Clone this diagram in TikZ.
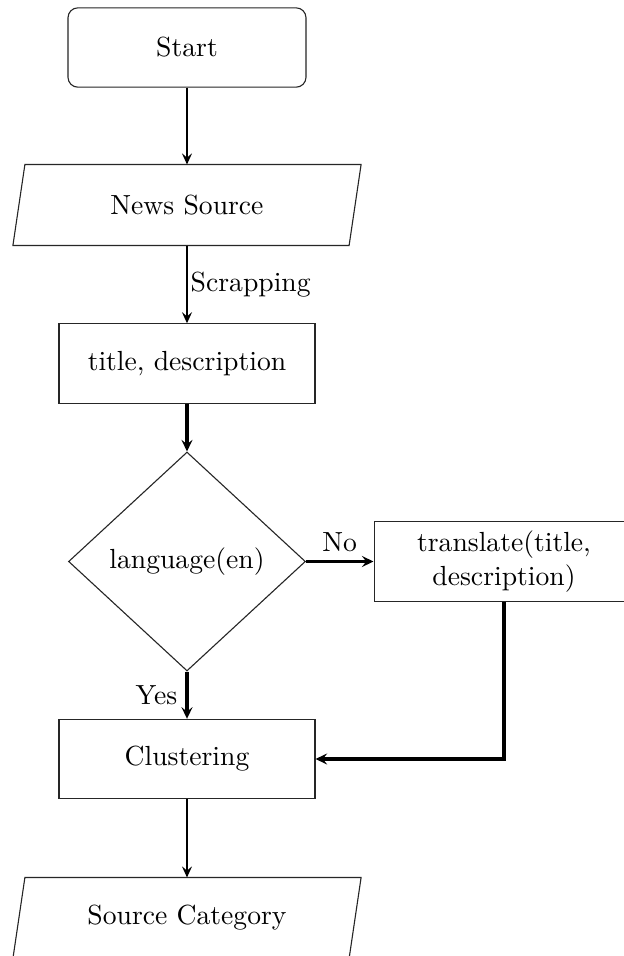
\documentclass[tikz,border=0pt]{standalone}
\usetikzlibrary{shapes.geometric,arrows.meta}
\tikzset{
  box/.style={draw=black!85,line width=0.4pt,rectangle,minimum width=92.6pt,minimum height=28.7pt,inner sep=2pt},
  startbox/.style={box,rounded corners=3.6pt,minimum width=86.1pt},
  iobox/.style={rectangle,minimum width=121.2pt,minimum height=28.9pt,inner sep=2pt},
  decision/.style={draw=black!85,line width=0.4pt,diamond,minimum width=85.7pt,minimum height=79.2pt,inner sep=0pt},
  flow/.style={line width=0.7pt,-{Stealth[length=4pt,width=3.6pt,inset=1.5pt]}},
  flowthick/.style={line width=1.1pt,-{Stealth[length=4.2pt,width=4pt,inset=1.6pt]}},
  slantedge/.style={draw=black!85,line width=0.4pt}
}
\begin{document}
\begin{tikzpicture}[x=0.3617pt,y=-0.3617pt]
\clip (0,0) rectangle (624,956);
\fill[white] (0,0) rectangle (624,956);
\node[startbox] (start) at (187,47.5) {Start};
\node[iobox] (news) at (187,205) {News Source};
\draw[slantedge] ([xshift=-2.17pt]news.south west) -- ([xshift=2.17pt]news.north west) -- ([xshift=2.17pt]news.north east) -- ([xshift=-2.17pt]news.south east) -- cycle;
\node[box] (title) at (187,363.5) {title, description};
\node[decision] (lang) at (187,561.5) {language(en)};
\node[box,minimum width=94pt,align=center] (trans) at (504,561.5) {translate(title,\\description)};
\node[box] (clust) at (187,759) {Clustering};
\node[iobox] (src) at (187,918) {Source Category};
\draw[slantedge] ([xshift=-2.17pt]src.south west) -- ([xshift=2.17pt]src.north west) -- ([xshift=2.17pt]src.north east) -- ([xshift=-2.17pt]src.south east) -- cycle;

\draw[flow] (start) -- (news);
\draw[flow] (news) -- node[right,inner sep=1pt,pos=0.5] {Scrapping} (title);
\draw[flowthick] (title) -- (lang);
\draw[flowthick] (lang) -- node[above,inner sep=3pt] {No} (trans);
\draw[flowthick] (lang) -- node[left,inner sep=3pt] {Yes} (clust);
\draw[flowthick] (trans.south) |- (clust.east);
\draw[flow] (clust) -- (src);
\end{tikzpicture}
\end{document}
